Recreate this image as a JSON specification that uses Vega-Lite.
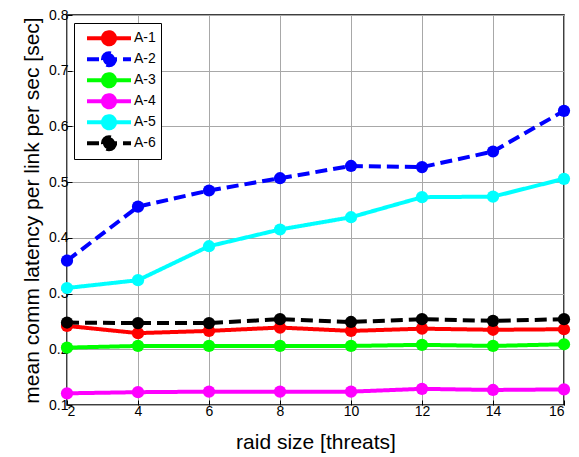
{
  "$schema": "https://vega.github.io/schema/vega-lite/v6.json",
  "width": 497,
  "height": 390,
  "autosize": "none",
  "padding": {"left": 67, "top": 15, "right": 15, "bottom": 52},
  "background": "white",
  "config": {
    "font": "Liberation Sans",
    "view": {"stroke": "black", "strokeWidth": 1.5},
    "axis": {
      "labelFont": "Liberation Sans",
      "titleFont": "Liberation Sans",
      "labelFontSize": 14,
      "labelColor": "black",
      "titleColor": "black",
      "titleFontWeight": "normal",
      "titleFontSize": 21,
      "gridColor": "#a8a8a8",
      "gridWidth": 1,
      "gridOpacity": 1,
      "domainColor": "black",
      "tickColor": "black",
      "tickSize": -5,
      "domain": false
    }
  },
  "data": {
    "values": [
      {"x": 2, "s": "A-1", "y": 0.242}, {"x": 4, "s": "A-1", "y": 0.229}, {"x": 6, "s": "A-1", "y": 0.233}, {"x": 8, "s": "A-1", "y": 0.239},
      {"x": 10, "s": "A-1", "y": 0.233}, {"x": 12, "s": "A-1", "y": 0.237}, {"x": 14, "s": "A-1", "y": 0.235}, {"x": 16, "s": "A-1", "y": 0.236},
      {"x": 2, "s": "A-2", "y": 0.359}, {"x": 4, "s": "A-2", "y": 0.456}, {"x": 6, "s": "A-2", "y": 0.485}, {"x": 8, "s": "A-2", "y": 0.507},
      {"x": 10, "s": "A-2", "y": 0.529}, {"x": 12, "s": "A-2", "y": 0.527}, {"x": 14, "s": "A-2", "y": 0.555}, {"x": 16, "s": "A-2", "y": 0.628},
      {"x": 2, "s": "A-3", "y": 0.203}, {"x": 4, "s": "A-3", "y": 0.206}, {"x": 6, "s": "A-3", "y": 0.206}, {"x": 8, "s": "A-3", "y": 0.206},
      {"x": 10, "s": "A-3", "y": 0.206}, {"x": 12, "s": "A-3", "y": 0.208}, {"x": 14, "s": "A-3", "y": 0.206}, {"x": 16, "s": "A-3", "y": 0.209},
      {"x": 2, "s": "A-4", "y": 0.121}, {"x": 4, "s": "A-4", "y": 0.123}, {"x": 6, "s": "A-4", "y": 0.124}, {"x": 8, "s": "A-4", "y": 0.124},
      {"x": 10, "s": "A-4", "y": 0.124}, {"x": 12, "s": "A-4", "y": 0.129}, {"x": 14, "s": "A-4", "y": 0.127}, {"x": 16, "s": "A-4", "y": 0.128},
      {"x": 2, "s": "A-5", "y": 0.31}, {"x": 4, "s": "A-5", "y": 0.324}, {"x": 6, "s": "A-5", "y": 0.385}, {"x": 8, "s": "A-5", "y": 0.415},
      {"x": 10, "s": "A-5", "y": 0.437}, {"x": 12, "s": "A-5", "y": 0.473}, {"x": 14, "s": "A-5", "y": 0.474}, {"x": 16, "s": "A-5", "y": 0.506},
      {"x": 2, "s": "A-6", "y": 0.248}, {"x": 4, "s": "A-6", "y": 0.247}, {"x": 6, "s": "A-6", "y": 0.247}, {"x": 8, "s": "A-6", "y": 0.254},
      {"x": 10, "s": "A-6", "y": 0.249}, {"x": 12, "s": "A-6", "y": 0.254}, {"x": 14, "s": "A-6", "y": 0.251}, {"x": 16, "s": "A-6", "y": 0.254}
    ]
  },
  "encoding": {
    "x": {
      "field": "x", "type": "quantitative",
      "scale": {"domain": [2, 16], "nice": false, "zero": false},
      "axis": {"values": [2, 4, 6, 8, 10, 12, 14, 16], "title": "raid size [threats]", "titlePadding": 13, "labelPadding": 4}
    },
    "y": {
      "field": "y", "type": "quantitative",
      "scale": {"domain": [0.1, 0.8], "nice": false, "zero": false},
      "axis": {"values": [0.1, 0.2, 0.3, 0.4, 0.5, 0.6, 0.7, 0.8], "format": ".1f", "title": "mean comm latency per link per sec [sec]", "titlePadding": 6, "labelPadding": 4}
    },
    "color": {
      "field": "s", "type": "nominal",
      "scale": {"domain": ["A-1", "A-2", "A-3", "A-4", "A-5", "A-6"], "range": ["#ff0000", "#0000ff", "#00ff00", "#ff00ff", "#00ffff", "#000000"]},
      "legend": {
        "title": null,
        "orient": "none",
        "legendX": 7,
        "legendY": 8,
        "strokeColor": "black",
        "fillColor": "white",
        "padding": 5,
        "rowPadding": 0,
        "clipHeight": 20.5,
        "symbolType": "M-3.14,0H3.14M0.86,0A0.86,0.86,0,1,1,-0.86,0A0.86,0.86,0,1,1,0.86,0",
        "symbolSize": 196,
        "symbolStrokeWidth": 4,
        "symbolOffset": 21,
        "labelOffset": 16,
        "labelFontSize": 14,
        "labelFont": "Liberation Sans",
        "labelColor": "black",
        "encode": {
          "symbols": {
            "update": {
              "fill": {"scale": "color", "field": "value"},
              "stroke": {"scale": "color", "field": "value"},
              "opacity": {"value": 1},
              "fillOpacity": {"value": 1},
              "strokeDash": [
                {"test": "datum.value === 'A-2' || datum.value === 'A-6'", "value": [12, 5]},
                {"value": [1, 0]}
              ]
            }
          }
        }
      }
    }
  },
  "layer": [
    {
      "mark": {"type": "line", "strokeWidth": 4},
      "encoding": {
        "strokeDash": {
          "field": "s", "type": "nominal",
          "scale": {"domain": ["A-1", "A-2", "A-3", "A-4", "A-5", "A-6"], "range": [[1, 0], [12, 6], [1, 0], [1, 0], [1, 0], [12, 6]]},
          "legend": null
        }
      }
    },
    {
      "mark": {"type": "point", "shape": "circle", "filled": true, "size": 150, "opacity": 1},
      "encoding": {}
    }
  ]
}
